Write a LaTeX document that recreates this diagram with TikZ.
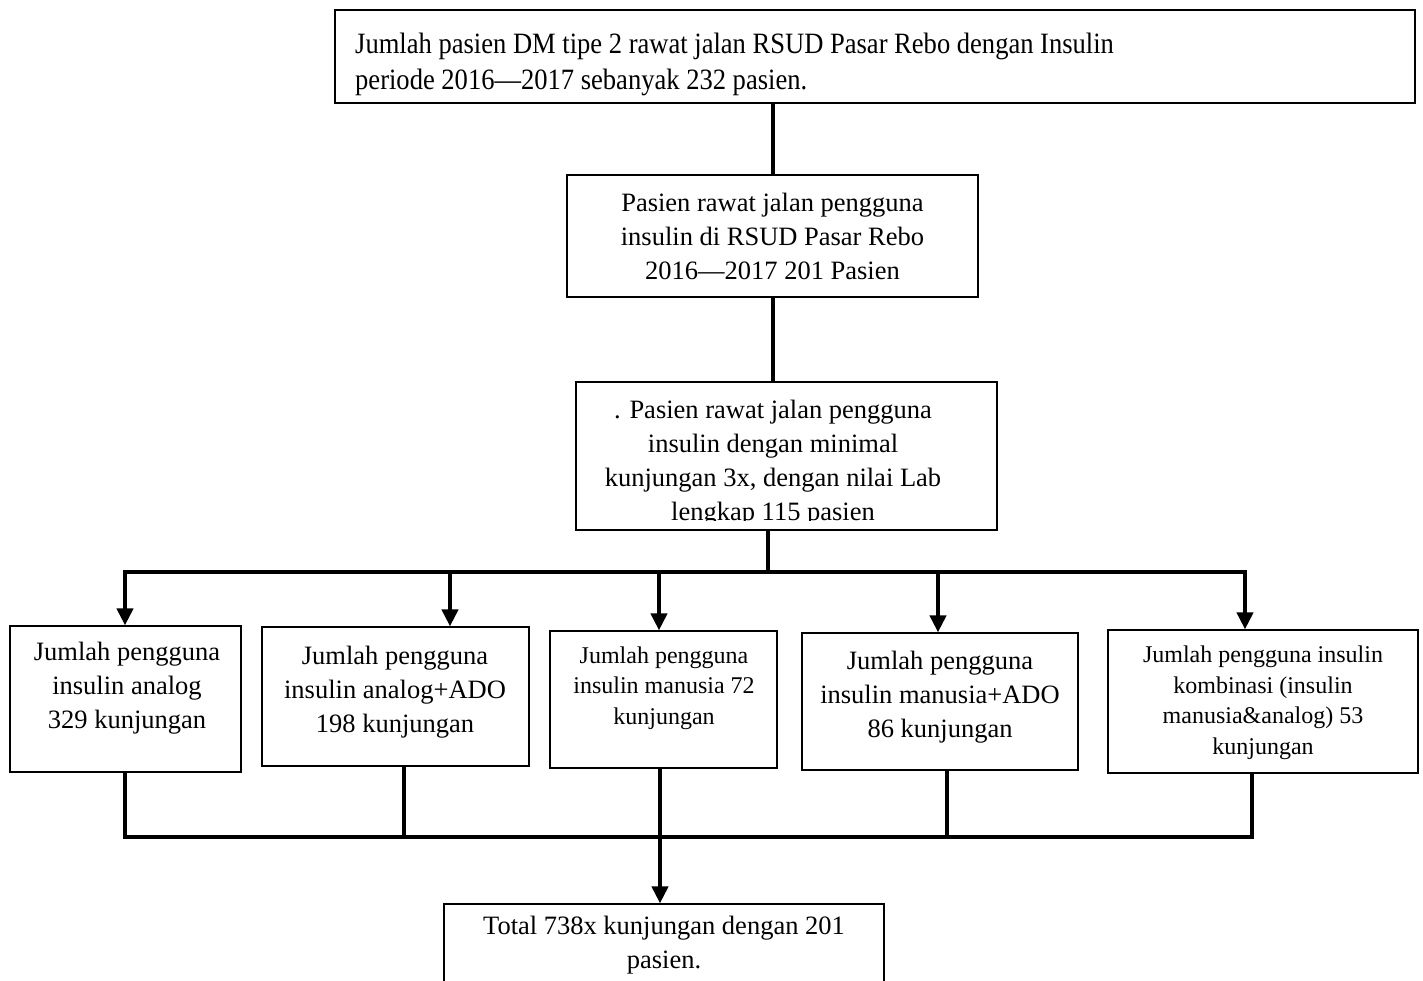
\documentclass[tikz,border=0pt]{standalone}
\usepackage{fontspec}
\setmainfont{Liberation Serif}
\newfontfamily\condfont[FakeStretch=0.9,Ligatures=TeX]{Liberation Serif}
\usetikzlibrary{arrows.meta}
\begin{document}
\begin{tikzpicture}[x=1pt,y=-1pt,
  box/.style={draw, line width=1.2pt, inner sep=0pt, fill=none},
  txt/.style={inner sep=0pt, align=center, font=\fontsize{26.5}{34}\selectfont},
  toptxt/.style={inner sep=0pt, align=left, font=\condfont\fontsize{29.5}{36}\selectfont},
  smalltxt/.style={inner sep=0pt, align=center, font=\fontsize{24}{30.5}\selectfont},
  conn/.style={line width=4pt},
  arr/.style={line width=4pt, -{Triangle[length=17pt,width=16pt]}}]
\useasboundingbox (0,0) rectangle (1423,980);
\fill[white] (0,0) rectangle (1423,980);
% boxes
\node[box, minimum width=1080pt, minimum height=93pt] (top) at (875,56.5) {};
\node[box, minimum width=411pt, minimum height=122pt] (n2) at (772.5,236) {};
\node[box, minimum width=421pt, minimum height=148pt] (n3) at (786.5,456) {};
\node[box, minimum width=231pt, minimum height=146pt] (m1) at (125.5,699) {};
\node[box, minimum width=267pt, minimum height=139pt] (m2) at (395.5,696.5) {};
\node[box, minimum width=227pt, minimum height=137pt] (m3) at (663.5,699.5) {};
\node[box, minimum width=276pt, minimum height=137pt] (m4) at (940,701.5) {};
\node[box, minimum width=310pt, minimum height=143pt] (m5) at (1263,701.5) {};
\node[box, minimum width=440pt, minimum height=120pt] (fin) at (664,964) {};
% texts
\node[toptxt, anchor=north west] (ttop) at (355,33) {Jumlah pasien DM tipe 2 rawat jalan RSUD Pasar Rebo dengan Insulin\\periode 2016---2017 sebanyak 232 pasien.};
\node[txt] (t2) at (772.5,236) {Pasien rawat jalan pengguna\\insulin di RSUD Pasar Rebo\\2016---2017 201 Pasien};
\begin{scope}
\clip (576,382) rectangle (997,520);
\node[txt] (t3) at (773,463) {. Pasien rawat jalan pengguna\\insulin dengan minimal\\kunjungan 3x, dengan nilai Lab\\lengkap 115 pasien};
\end{scope}
\node[txt] (tm1) at (127,688) {Jumlah pengguna\\insulin analog\\329 kunjungan};
\node[txt] (tm2) at (395,692) {Jumlah pengguna\\insulin analog+ADO\\198 kunjungan};
\node[smalltxt] (tm3) at (664,688) {Jumlah pengguna\\insulin manusia 72\\kunjungan};
\node[txt] (tm4) at (940,697) {Jumlah pengguna\\insulin manusia+ADO\\86 kunjungan};
\node[smalltxt] (tm5) at (1263,703) {Jumlah pengguna insulin\\kombinasi (insulin\\manusia\&analog) 53\\kunjungan};
\node[txt] (tfin) at (664,945) {Total 738x kunjungan dengan 201\\pasien.};
% coordinates
\coordinate (busT) at (768,572);
\coordinate (busL) at (125,572);
\coordinate (busR) at (1245,572);
\coordinate (a2) at (450,572);
\coordinate (a3) at (659,572);
\coordinate (a4) at (938,572);
\coordinate (c1) at (125,837);
\coordinate (c2) at (404,837);
\coordinate (c3) at (660,837);
\coordinate (c4) at (947,837);
\coordinate (c5) at (1252,837);
% connectors
\draw[conn] (n2.north |- top.south) -- (n2.north);
\draw[conn] (n2.south) -- (n2.south |- n3.north);
\draw[conn] (busT |- n3.south) -- (busT);
\draw[conn, line cap=rect] (busL) -- (busR);
\draw[arr] (busL) -- (busL |- m1.north);
\draw[arr] (a2) -- (a2 |- m2.north);
\draw[arr] (a3) -- (a3 |- m3.north);
\draw[arr] (a4) -- (a4 |- m4.north);
\draw[arr] (busR) -- (busR |- m5.north);
\draw[conn] (c1 |- m1.south) -- (c1);
\draw[conn] (c2 |- m2.south) -- (c2);
\draw[conn] (c3 |- m3.south) -- (c3);
\draw[conn] (c4 |- m4.south) -- (c4);
\draw[conn] (c5 |- m5.south) -- (c5);
\draw[conn, line cap=rect] (c1) -- (c5);
\draw[arr] (c3) -- (c3 |- fin.north);
\end{tikzpicture}
\end{document}
